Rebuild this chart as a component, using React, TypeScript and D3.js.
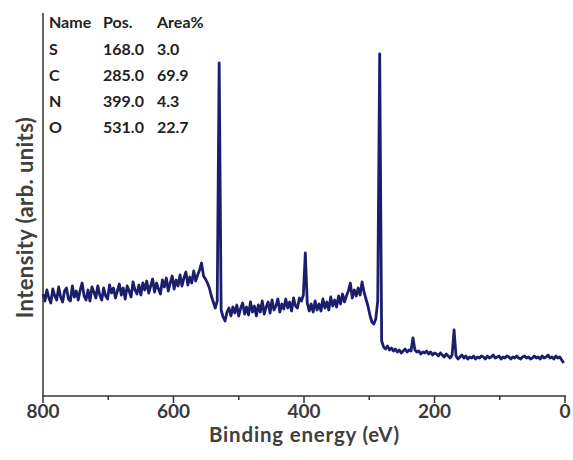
import React from "react";
import * as d3 from "d3";

// Binding energy grid: starts at 800 eV, steps of 3 eV downward (267 samples)
const energyStart = 800;
const energyStep = 3;

// Survey spectrum intensities (arb. units), one row = 30 eV
const intensity: number[] = [
  102, 95, 106, 98, 93, 107, 100, 96, 109, 99, // 800..773
  94, 105, 108, 97, 95, 110, 99, 105, 96, 106, // 770..743
  113, 100, 96, 106, 95, 109, 104, 98, 110, 101, // 740..713
  96, 108, 100, 97, 111, 103, 108, 98, 105, 112, // 710..683
  101, 108, 97, 110, 105, 99, 114, 106, 102, 111, // 680..653
  101, 113, 106, 115, 103, 110, 117, 104, 113, 107, // 650..623
  102, 116, 109, 118, 105, 113, 120, 107, 116, 110, // 620..593
  121, 110, 118, 124, 111, 119, 113, 125, 115, 121, // 590..563
  126, 133, 120, 117, 113, 108, 100, 94, 88, 95, // 560..533
  333, 86, 79, 75, 84, 88, 80, 89, 83, 91, // 530..503
  80, 88, 93, 82, 89, 81, 94, 84, 90, 80, // 500..473
  91, 84, 95, 82, 89, 94, 83, 96, 86, 90, // 470..443
  97, 84, 92, 87, 97, 88, 94, 85, 98, 90, // 440..413
  88, 98, 95, 101, 143, 93, 85, 92, 84, 95, // 410..383
  86, 92, 85, 97, 88, 94, 86, 99, 90, 96, // 380..353
  89, 100, 92, 102, 94, 100, 105, 113, 98, 106, // 350..323
  100, 108, 101, 114, 104, 97, 90, 81, 74, 72, // 320..293
  77, 95, 342, 55, 49, 47, 50, 46, 48, 45, // 290..263
  47, 44, 46, 43, 45, 47, 44, 46, 45, 58, // 260..233
  46, 44, 45, 42, 44, 43, 45, 42, 44, 41, // 230..203
  43, 42, 40, 43, 41, 39, 42, 40, 38, 41, // 200..173
  66, 40, 37, 39, 41, 38, 40, 37, 39, 38, // 170..143
  40, 37, 39, 38, 40, 39, 37, 40, 38, 39, // 140..113
  41, 38, 39, 40, 37, 39, 38, 40, 39, 37, // 110..83
  39, 38, 40, 38, 37, 39, 40, 38, 39, 37, // 80..53
  38, 40, 38, 39, 37, 40, 38, 39, 41, 38, // 50..23
  39, 37, 40, 38, 39, 36, 33, // 20..2
];

const xMajorTicks = [800, 600, 400, 200, 0];
const xMinorTicks = [700, 500, 300, 100];

const tableHeader = ["Name", "Pos.", "Area%"];
const tableNames = ["S", "C", "N", "O"];
const tablePos = ["168.0", "285.0", "399.0", "531.0"];
const tableArea = ["3.0", "69.9", "4.3", "22.7"];

const W = 573;
const H = 460;
const FONT = "Lato, 'Open Sans', 'Liberation Sans', sans-serif";
const LINE = "#1a1e6c";
const AXIS = "#333";

export default function App() {
  const x = d3.scaleLinear().domain([800, 0]).range([43, 565]);
  const y = d3.scaleLinear().domain([0, 383]).range([396, 13]);
  const data = intensity.map((v, i) => ({ e: energyStart - i * energyStep, v }));
  const line = d3
    .line<{ e: number; v: number }>()
    .x((d) => x(d.e))
    .y((d) => y(d.v));

  const colX = [49, 103, 157];
  const rowY = [28, 55, 81, 107, 133];

  return (
    <svg
      width={W}
      height={H}
      style={{ position: "absolute", left: 0, top: 0, background: "#fff" }}
      fontFamily={FONT}
    >
      {/* data */}
      <path d={line(data) || ""} fill="none" stroke={LINE} strokeWidth={2.8} strokeLinejoin="round" />

      {/* axes */}
      <line x1={43} x2={43} y1={13} y2={396} stroke={AXIS} strokeWidth={1.5} />
      <line x1={42.25} x2={566} y1={396} y2={396} stroke={AXIS} strokeWidth={1.5} />
      {xMajorTicks.map((t) => (
        <line key={"M" + t} x1={x(t)} x2={x(t)} y1={396} y2={403} stroke={AXIS} strokeWidth={1.5} />
      ))}
      {xMinorTicks.map((t) => (
        <line key={"m" + t} x1={x(t)} x2={x(t)} y1={396} y2={400} stroke={AXIS} strokeWidth={1.5} />
      ))}
      {xMajorTicks.map((t) => (
        <text
          key={"l" + t}
          x={x(t)}
          y={418}
          textAnchor="middle"
          fontSize={19}
          fontWeight="bold"
          fill="#3a3a3a"
        >
          {t}
        </text>
      ))}
      <text
        x={304.5}
        y={442}
        textAnchor="middle"
        fontSize={20.5}
        fontWeight="bold"
        letterSpacing={0.8}
        fill="#404040"
      >
        Binding energy (eV)
      </text>
      <text
        transform="translate(33,217.5) rotate(-90)"
        textAnchor="middle"
        fontSize={22}
        fontWeight="bold"
        letterSpacing={0.4}
        fill="#404040"
      >
        Intensity (arb. units)
      </text>

      {/* table */}
      {tableHeader.map((h, i) => (
        <text key={"h" + i} x={colX[i]} y={rowY[0]} fontSize={16} fontWeight="bold" fill="#222">
          {h}
        </text>
      ))}
      {tableNames.map((n, r) => (
        <g key={"r" + r}>
          <text x={colX[0]} y={rowY[r + 1]} fontSize={16} fontWeight="bold" fill="#222">
            {n}
          </text>
          <text x={colX[1]} y={rowY[r + 1]} fontSize={16} fontWeight="bold" fill="#222">
            {tablePos[r]}
          </text>
          <text x={colX[2]} y={rowY[r + 1]} fontSize={16} fontWeight="bold" fill="#222">
            {tableArea[r]}
          </text>
        </g>
      ))}
    </svg>
  );
}
